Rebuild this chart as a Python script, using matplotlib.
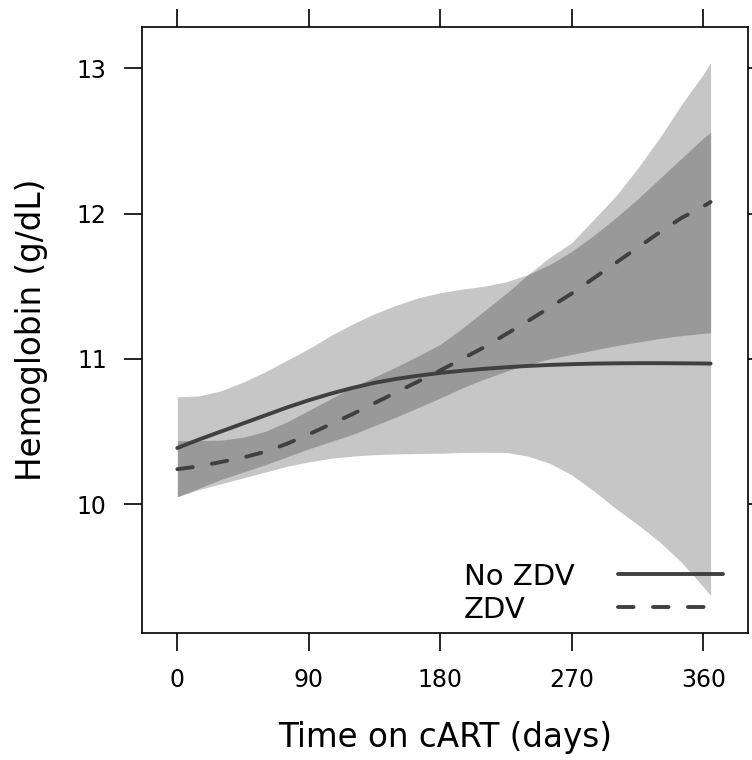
#!/usr/bin/env python3
"""
Hemoglobin over time on cART, ZDV vs no ZDV, with confidence bands.
"""

import matplotlib
matplotlib.use("Agg")
import matplotlib.pyplot as plt
import numpy as np

DAYS = [0, 15, 30, 45, 60, 75, 90, 105, 120, 135, 150, 165, 180,
        195, 210, 225, 240, 255, 270, 285, 300, 315, 330, 345, 360, 365]

# No ZDV: fitted mean and band
NOZDV_FIT = [10.386, 10.445, 10.50, 10.555, 10.61, 10.665, 10.715, 10.76, 10.80, 10.835, 10.862, 10.884, 10.903,
             10.918, 10.931, 10.942, 10.951, 10.958, 10.963, 10.967, 10.969, 10.97, 10.97, 10.969, 10.968, 10.967]
NOZDV_LO = [10.05, 10.10, 10.14, 10.18, 10.22, 10.26, 10.29, 10.315, 10.33, 10.34, 10.345, 10.348, 10.35,
            10.355, 10.357, 10.355, 10.33, 10.28, 10.20, 10.09, 9.97, 9.86, 9.74, 9.60, 9.43, 9.37]
NOZDV_HI = [10.738, 10.745, 10.78, 10.84, 10.91, 10.99, 11.07, 11.16, 11.24, 11.31, 11.37, 11.42, 11.455,
            11.48, 11.50, 11.53, 11.58, 11.65, 11.74, 11.85, 11.97, 12.10, 12.24, 12.38, 12.52, 12.56]

# ZDV: fitted mean and band
ZDV_FIT = [10.24, 10.26, 10.29, 10.32, 10.36, 10.415, 10.48, 10.55, 10.62, 10.695, 10.77, 10.845, 10.92,
           11.00, 11.08, 11.17, 11.26, 11.355, 11.45, 11.555, 11.66, 11.765, 11.87, 11.97, 12.05, 12.08]
ZDV_LO = [10.05, 10.11, 10.17, 10.22, 10.27, 10.325, 10.38, 10.43, 10.48, 10.54, 10.60, 10.665, 10.73,
          10.80, 10.86, 10.915, 10.96, 11.00, 11.03, 11.06, 11.09, 11.115, 11.14, 11.16, 11.175, 11.18]
ZDV_HI = [10.437, 10.437, 10.44, 10.46, 10.50, 10.565, 10.645, 10.725, 10.805, 10.875, 10.945, 11.02, 11.10,
          11.21, 11.33, 11.45, 11.58, 11.70, 11.80, 11.96, 12.12, 12.31, 12.52, 12.75, 12.96, 13.04]

X_TICKS = [0, 90, 180, 270, 360]
Y_TICKS = [10, 11, 12, 13]
GROUP_LABELS = ["No ZDV", "ZDV"]

LINE_COLOR = "#404040"
BAND_ALPHA = 0.225
LINE_WIDTH = 2.8
DASH = (0, (4.0, 5.0))

plt.rcParams["font.family"] = ["DejaVu Sans"]


def main() -> None:
    days = np.array(DAYS)

    fig = plt.figure(figsize=(7.52, 7.60), dpi=100)
    ax = fig.add_axes([0.1882, 0.1667, 0.9947 - 0.1882, 0.9649 - 0.1667])

    ax.fill_between(days, NOZDV_LO, NOZDV_HI, color="black", alpha=BAND_ALPHA, linewidth=0, zorder=1)
    ax.fill_between(days, ZDV_LO, ZDV_HI, color="black", alpha=BAND_ALPHA, linewidth=0, zorder=1)

    ax.plot(days, NOZDV_FIT, color=LINE_COLOR, linewidth=LINE_WIDTH, solid_capstyle="round", zorder=3)
    ax.plot(days, ZDV_FIT, color=LINE_COLOR, linewidth=LINE_WIDTH, linestyle=DASH,
            dash_capstyle="round", zorder=3)

    ax.set_xlim(-24.5, 390.6)
    ax.set_ylim(9.11, 13.287)
    ax.set_xticks(X_TICKS)
    ax.set_yticks(Y_TICKS)
    ax.tick_params(axis="both", direction="out", length=13, width=1.2, labelsize=17, pad=12,
                   top=True, right=True, labeltop=False, labelright=False)
    for spine in ax.spines.values():
        spine.set_linewidth(1.2)

    ax.set_xlabel("Time on cART (days)", fontsize=23.5)
    ax.set_ylabel("Hemoglobin (g/dL)", fontsize=23.5)
    ax.xaxis.set_label_coords(0.5, -0.145)
    ax.yaxis.set_label_coords(-0.155, 0.5)

    # key in the lower right corner, text left-aligned and line samples to the right
    ax.text(0.5317, 0.0796, GROUP_LABELS[0], transform=ax.transAxes, fontsize=21,
            ha="left", va="baseline")
    ax.text(0.5317, 0.0252, GROUP_LABELS[1], transform=ax.transAxes, fontsize=21,
            ha="left", va="baseline")
    ax.plot([0.7857, 0.9588], [0.0973, 0.0973], transform=ax.transAxes, color=LINE_COLOR,
            linewidth=LINE_WIDTH, solid_capstyle="round", zorder=3)
    ax.plot([0.7857, 0.9588], [0.0429, 0.0429], transform=ax.transAxes, color=LINE_COLOR,
            linewidth=LINE_WIDTH, linestyle=DASH, dash_capstyle="round", zorder=3)

    fig.savefig("out.png", dpi=100)
    plt.close(fig)


if __name__ == "__main__":
    main()
